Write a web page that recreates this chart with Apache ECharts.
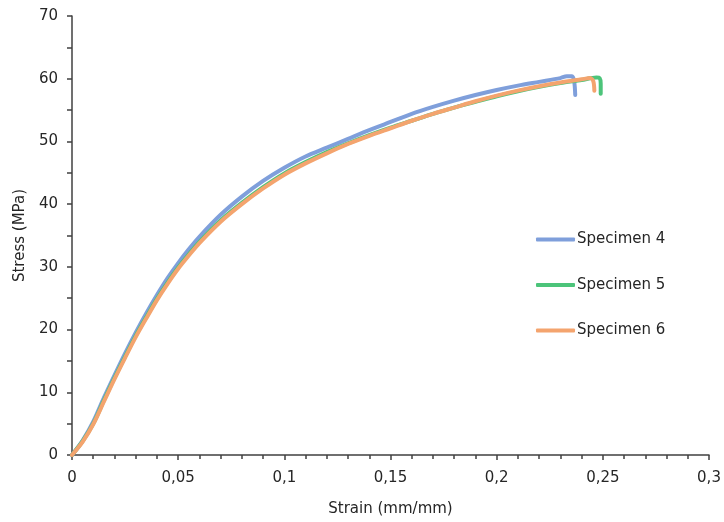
<!DOCTYPE html>
<html>
<head>
<meta charset="utf-8">
<script src="https://cdn.jsdelivr.net/npm/echarts@6/dist/echarts.min.js"></script>
<style>
  html, body { margin: 0; padding: 0; background: #fff; }
  #courbe { width: 724px; height: 522px; }
</style>
</head>
<body>
<div id="courbe"></div>
<script>
// Données (déformation en mm/mm, contrainte en MPa)
const strain4 = [0, 0.005, 0.01, 0.015, 0.02, 0.025, 0.03, 0.035, 0.04, 0.045, 0.05, 0.055, 0.06, 0.07, 0.08, 0.09, 0.1, 0.11, 0.12, 0.13, 0.14, 0.15, 0.16, 0.17, 0.18, 0.19, 0.2, 0.21, 0.22, 0.23, 0.233, 0.2355, 0.2365, 0.237];
const stress4 = [0, 2.3, 5.3, 9.1, 12.7, 16.2, 19.5, 22.6, 25.5, 28.2, 30.6, 32.8, 34.8, 38.3, 41.2, 43.7, 45.8, 47.6, 49.0, 50.4, 51.8, 53.1, 54.4, 55.5, 56.5, 57.4, 58.2, 58.9, 59.5, 60.1, 60.4, 60.4, 59.6, 57.4];

const strain5 = [0, 0.005, 0.01, 0.015, 0.02, 0.025, 0.03, 0.035, 0.04, 0.045, 0.05, 0.055, 0.06, 0.07, 0.08, 0.09, 0.1, 0.11, 0.12, 0.13, 0.14, 0.15, 0.16, 0.17, 0.18, 0.19, 0.2, 0.21, 0.22, 0.23, 0.24, 0.247, 0.2485, 0.249, 0.249];
const stress5 = [0, 2.2, 5.0, 8.7, 12.3, 15.7, 19.0, 22.0, 24.9, 27.5, 29.9, 32.0, 34.0, 37.4, 40.2, 42.7, 44.9, 46.7, 48.3, 49.7, 51.0, 52.2, 53.3, 54.4, 55.4, 56.3, 57.2, 58.0, 58.7, 59.3, 59.8, 60.2, 60.1, 59.2, 57.6];

const strain6 = [0, 0.005, 0.01, 0.015, 0.02, 0.025, 0.03, 0.035, 0.04, 0.045, 0.05, 0.055, 0.06, 0.07, 0.08, 0.09, 0.1, 0.11, 0.12, 0.13, 0.14, 0.15, 0.16, 0.17, 0.18, 0.19, 0.2, 0.21, 0.22, 0.23, 0.24, 0.244, 0.2455, 0.246];
const stress6 = [0, 2.1, 4.9, 8.5, 12.1, 15.5, 18.8, 21.8, 24.7, 27.3, 29.7, 31.8, 33.8, 37.2, 40.0, 42.5, 44.7, 46.5, 48.1, 49.6, 50.9, 52.1, 53.3, 54.4, 55.4, 56.4, 57.3, 58.1, 58.8, 59.4, 59.9, 60.1, 59.6, 58.1];

const seriesNames = ['Specimen 4', 'Specimen 5', 'Specimen 6'];
const seriesColors = ['#7f9fdb', '#4cc47a', '#f4a46e'];

const police = 'DejaVu Sans, sans-serif';

// Transforme deux listes en couples [x, y]
function paires(xs, ys) {
    return xs.map((x, i) => [x, ys[i]]);
}

// Remplace le point décimal par une virgule
function virgule(v) {
    return String(+v.toFixed(3)).replace('.', ',');
}

function makeSeries(name, color, data) {
    return {
        name: name,
        type: 'line',
        data: data,
        showSymbol: false,
        symbol: 'none',
        smooth: 0.3,
        lineStyle: { color: color, width: 4, cap: 'round', join: 'round' },
        itemStyle: { color: color }
    };
}

function settingsCourbe() {
    const trait = { color: '#404040', width: 1.5 };
    const texte = { fontFamily: police, fontSize: 15, color: '#262626' };
    return {
        animation: false,
        backgroundColor: '#fff',
        grid: { left: 72, right: 15, top: 16, bottom: 66 },
        legend: {
            orient: 'vertical',
            left: 536,
            top: 232,
            padding: 0,
            itemWidth: 39,
            itemHeight: 4,
            itemGap: 30.5,
            icon: 'roundRect',
            data: seriesNames,
            textStyle: Object.assign({ padding: [0, 0, 0, -3] }, texte)
        },
        xAxis: {
            type: 'value',
            min: 0,
            max: 0.3,
            interval: 0.05,
            name: 'Strain (mm/mm)',
            nameLocation: 'middle',
            nameGap: 47,
            nameTextStyle: texte,
            axisLine: { show: true, lineStyle: trait },
            axisTick: { show: true, length: 5, lineStyle: trait },
            minorTick: { show: true, splitNumber: 5, length: 4, lineStyle: trait },
            splitLine: { show: false },
            axisLabel: Object.assign({ margin: 16, formatter: virgule }, texte)
        },
        yAxis: {
            type: 'value',
            min: 0,
            max: 70,
            interval: 10,
            name: 'Stress (MPa)',
            nameLocation: 'middle',
            nameGap: 39,
            nameTextStyle: texte,
            axisLine: { show: true, lineStyle: trait },
            axisTick: { show: true, length: 5, lineStyle: trait },
            minorTick: { show: true, splitNumber: 2, length: 5, lineStyle: trait },
            splitLine: { show: false },
            axisLabel: Object.assign({ margin: 14 }, texte)
        },
        series: [
            makeSeries(seriesNames[0], seriesColors[0], paires(strain4, stress4)),
            makeSeries(seriesNames[1], seriesColors[1], paires(strain5, stress5)),
            makeSeries(seriesNames[2], seriesColors[2], paires(strain6, stress6))
        ]
    };
}

const chart = echarts.init(document.getElementById('courbe'));
chart.setOption(settingsCourbe());
</script>
</body>
</html>
